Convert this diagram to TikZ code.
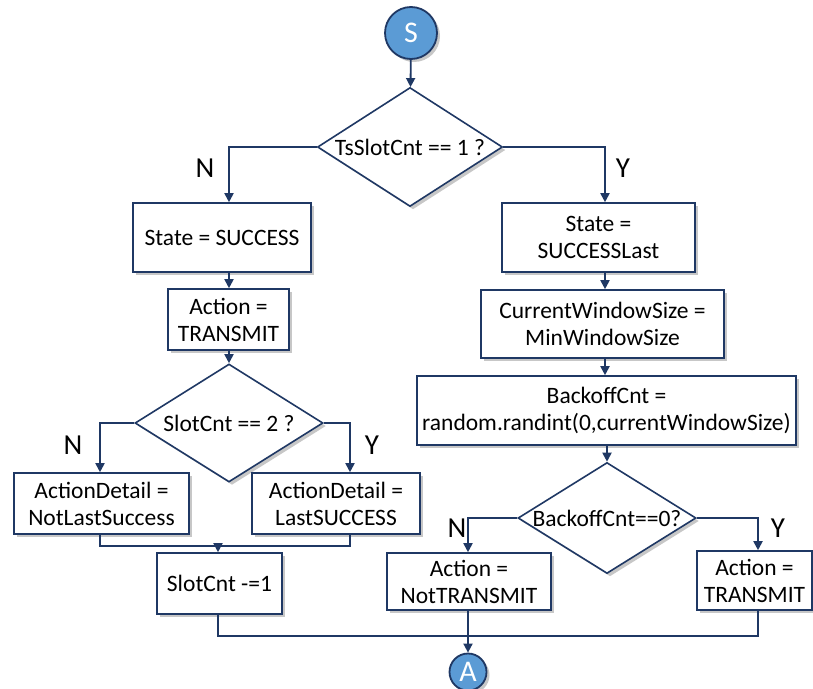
\documentclass[tikz,border=0pt]{standalone}
\usepackage{fontspec}
\setmainfont{Carlito}
\usetikzlibrary{shapes.geometric,shadows,arrows.meta}
\definecolor{navy}{HTML}{1F3864}
\definecolor{bluefill}{HTML}{5B9BD5}
\begin{document}
\begin{tikzpicture}[x=1pt,y=-1pt,
  shade/.style={drop shadow={shadow xshift=3pt,shadow yshift=-3pt,opacity=0.22,fill=black}},
  box/.style={draw=navy,line width=1.6pt,fill=white,align=center,inner sep=0pt,shade,
    font=\fontsize{23.5}{27}\selectfont},
  decision/.style={diamond,draw=navy,line width=1.6pt,fill=white,inner sep=0pt,shade},
  dtext/.style={font=\fontsize{23.5}{27}\selectfont},
  term/.style={circle,draw=navy,line width=1.8pt,fill=bluefill,text=white,inner sep=0pt,shade,
    font=\fontsize{30}{32}\selectfont},
  yn/.style={font=\fontsize{29}{30}\selectfont},
  line/.style={draw=navy,line width=1.8pt},
  arr/.style={line,-{Triangle[width=9pt,length=9pt]}}]
\useasboundingbox (0,0) rectangle (813,688);

% terminals
\node[term,minimum size=52pt] (S) at (411,33) {S};
\node[term,minimum size=37pt] (A) at (468,672) {A};

% first decision
\node[decision,minimum width=185pt,minimum height=119pt] (d1) at (410,147) {};
\node[dtext] (d1t) at (d1) {TsSlotCnt == 1 ?};

% left branch
\node[box,minimum width=178pt,minimum height=69pt] (s1) at (222,237.5) {State = SUCCESS};
\node[box,minimum width=121pt,minimum height=61pt] (a1) at (228.5,319.5) {Action =\\TRANSMIT};
\node[decision,minimum width=188pt,minimum height=118pt] (d2) at (229,423) {};
\node[dtext] (d2t) at (d2) {SlotCnt == 2 ?};
\node[box,minimum width=175pt,minimum height=61pt] (nl) at (101.5,503.5) {ActionDetail =\\NotLastSuccess};
\node[box,minimum width=168pt,minimum height=61pt] (ls) at (336,503.5) {ActionDetail =\\LastSUCCESS};
\node[box,minimum width=125pt,minimum height=61pt] (sc) at (219.5,583.5) {SlotCnt -=1};

% right branch
\node[box,minimum width=193pt,minimum height=69pt] (s2) at (598.5,237.5) {State =\\SUCCESSLast};
\node[box,minimum width=243pt,minimum height=68pt] (cw) at (602.5,324) {CurrentWindowSize =\\MinWindowSize};
\node[box,minimum width=379pt,minimum height=69pt] (bo) at (606.5,410.5) {BackoffCnt =\\random.randint(0,currentWindowSize)};
\node[decision,minimum width=178pt,minimum height=111pt] (d3) at (607,518) {};
\node[dtext] (d3t) at (d3) {BackoffCnt==0?};
\node[box,minimum width=164pt,minimum height=57pt] (nt) at (469,581.5) {Action =\\NotTRANSMIT};
\node[box,minimum width=115pt,minimum height=59pt] (tr) at (754.5,580.5) {Action =\\TRANSMIT};

% branch labels
\node[yn] (n1) at (205,168) {N};
\node[yn] (y1) at (623,168) {Y};
\node[yn] (n2) at (73,445) {N};
\node[yn] (y2) at (372,445) {Y};
\node[yn] (n3) at (457,528) {N};
\node[yn] (y3) at (778,528) {Y};

% junction points
\coordinate (colL) at (229,0);
\coordinate (col) at (605,0);
\coordinate (m1) at (218,546);
\coordinate (m2) at (468,636);
\coordinate (xr) at (350,0);
\coordinate (xl) at (100,0);
\coordinate (xr3) at (758,0);

% connectors
\draw[arr] (S) -- (d1);
\draw[arr] (d1.west) -| (s1.north -| colL);
\draw[arr] (d1.east) -| (s2.north -| col);
\draw[arr] (s1.south -| colL) -- (a1.north -| colL);
\draw[arr] (a1.south -| colL) -- (d2.north);
\draw[arr] (d2.west) -| (nl.north -| xl);
\draw[arr] (d2.east) -| (ls.north -| xr);
\draw[line] (nl.south -| xl) |- (m1);
\draw[line] (ls.south -| xr) |- (m1);
\draw[arr] (m1) -- (sc.north -| m1);

\draw[arr] (s2.south -| col) -- (cw.north -| col);
\draw[arr] (cw.south -| col) -- (bo.north -| col);
\draw[arr] (bo.south -| d3) -- (d3.north);
\draw[arr] (d3.west) -| (nt.north -| m2);
\draw[arr] (d3.east) -| (tr.north -| xr3);
\draw[line] (sc.south -| m1) |- (m2);
\draw[line] (tr.south -| xr3) |- (m2);
\draw[arr] (nt.south -| m2) -- (A.north);
\end{tikzpicture}
\end{document}
